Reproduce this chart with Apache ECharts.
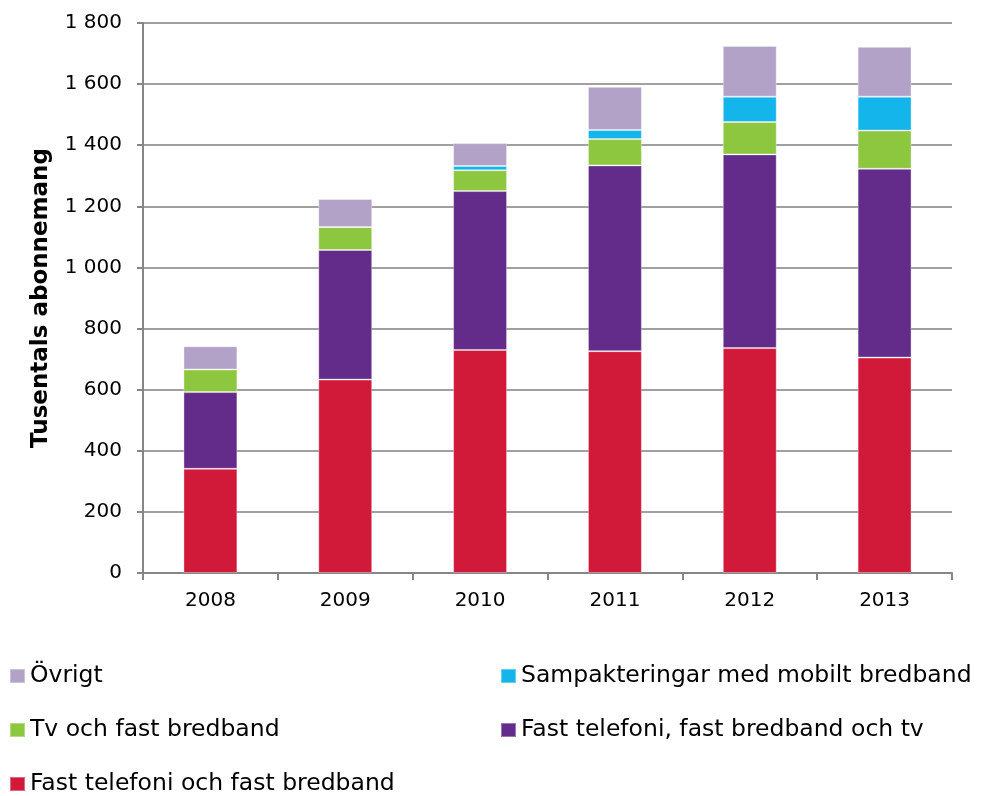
<!DOCTYPE html>
<html><head><meta charset="utf-8">
<script src="https://cdn.jsdelivr.net/npm/echarts@6/dist/echarts.min.js"></script>
<style>html,body{margin:0;padding:0;background:#fff}#c{width:981px;height:796px}</style>
</head><body><div id="c"></div>
<script>
const categories = ['2008','2009','2010','2011','2012','2013'];
const fastTelBred = [341, 633, 730, 726, 736, 705];
const fastTelBredTv = [251, 424, 520, 608, 634, 618];
const tvBred = [74, 75, 68, 86, 106, 125];
const mobilt = [0, 0, 14, 30, 83, 111];
const ovrigt = [76, 92, 75, 141, 166, 163];
const names = ['Fast telefoni och fast bredband','Fast telefoni, fast bredband och tv','Tv och fast bredband','Sampakteringar med mobilt bredband','Övrigt'];
const colors = ['#D11A3A','#642C8A','#8DC63F','#13B5EA','#B3A2C8'];
const seriesData = [fastTelBred, fastTelBredTv, tvBred, mobilt, ovrigt];
const yTickStep = 200, yMax = 1800;

const chart = echarts.init(document.getElementById('c'));
const font = 'DejaVu Sans, Verdana, sans-serif';
const legendPos = [
  {name: names[4], left: 9, top: 664},
  {name: names[3], left: 500, top: 664},
  {name: names[2], left: 9, top: 718},
  {name: names[1], left: 500, top: 718},
  {name: names[0], left: 9, top: 772}
];
chart.setOption({
  animation: false,
  grid: {left: 143, right: 29, top: 23, bottom: 223},
  legend: legendPos.map(p => ({
    data: [p.name], left: p.left, top: p.top, itemWidth: 15, itemHeight: 14, itemGap: 0,
    padding: 0, icon: 'rect', selectedMode: false,
    textStyle: {fontFamily: font, fontSize: 23.5, color: '#000', padding: [5,0,0,0]}
  })),
  xAxis: {
    type: 'category', data: categories,
    axisLine: {lineStyle: {color: '#868686', width: 2}},
    axisTick: {show: true, length: 7, lineStyle: {color: '#868686', width: 2}},
    axisLabel: {fontFamily: font, fontSize: 20, color: '#000', margin: 18}
  },
  yAxis: {
    type: 'value', min: 0, max: yMax, interval: yTickStep,
    name: 'Tusentals abonnemang', nameLocation: 'middle', nameGap: 90,
    nameTextStyle: {fontFamily: font, fontSize: 23, fontWeight: 'bold', color: '#000'},
    axisLine: {show: true, lineStyle: {color: '#868686', width: 2}},
    axisTick: {show: true, length: 6, lineStyle: {color: '#868686', width: 2}},
    splitLine: {lineStyle: {color: '#a0a0a0', width: 2}},
    axisLabel: {fontFamily: font, fontSize: 20, color: '#000', margin: 21,
      formatter: v => String(v).replace(/\B(?=(\d{3})+(?!\d))/g, ' ')}
  },
  series: seriesData.map((d, i) => ({
    name: names[i], type: 'bar', stack: 'total', data: d, barWidth: '40%',
    itemStyle: {color: colors[i], borderColor: 'rgba(255,255,255,0.35)', borderWidth: 1}
  }))
});
</script></body></html>
